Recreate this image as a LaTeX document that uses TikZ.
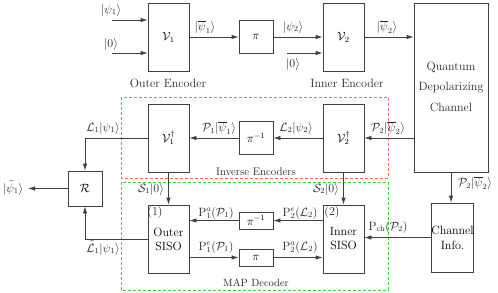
\documentclass[tikz,border=0pt]{standalone}
\usetikzlibrary{arrows.meta}
\definecolor{ln}{gray}{0.25}
\definecolor{redd}{RGB}{240,110,110}
\definecolor{grn}{RGB}{60,210,60}
\begin{document}
\begin{tikzpicture}[x=1pt,y=-1pt,
  blk/.style={draw=ln, line width=0.8pt, inner sep=0pt, font=\fontsize{12}{14}\selectfont, align=center},
  lbl/.style={inner sep=0pt, font=\fontsize{12}{14}\selectfont, text=black!85},
  arr/.style={draw=ln, line width=0.8pt, -{Latex[length=7pt,width=4.5pt]}},
  ln/.style={draw=ln, line width=0.8pt},
  grp/.style={dashed, dash pattern=on 3pt off 2pt, line width=0.7pt}]
\useasboundingbox (0,0) rectangle (498,292);
% groups
\draw[grp, draw=redd] (121,97) rectangle (388,178);
\draw[grp, draw=grn] (121,182) rectangle (388,290);
% encoder blocks
\node[blk, minimum width=41pt, minimum height=68pt] (V1) at (168.5,37) {$\mathcal{V}_1$};
\node[blk, minimum width=34pt, minimum height=33pt] (pi1) at (256,37) {$\pi$};
\node[blk, minimum width=41pt, minimum height=68pt] (V2) at (343.5,37) {$\mathcal{V}_2$};
\node[blk, minimum width=74pt, minimum height=169pt] (ch) at (451,87.5) {};
\node[lbl] (chq) at (451,67) {Quantum};
\node[lbl] (chd) at (451,88) {Depolarizing};
\node[lbl] (chc) at (451,107) {Channel};
% inverse encoders
\node[blk, minimum width=41pt, minimum height=68pt] (V1d) at (168.5,138) {$\mathcal{V}_1^\dagger$};
\node[blk, minimum width=34pt, minimum height=33pt] (pid) at (256,138) {$\pi^{-1}$};
\node[blk, minimum width=41pt, minimum height=68pt] (V2d) at (343.5,138) {$\mathcal{V}_2^\dagger$};
\node[blk, minimum width=34pt, minimum height=35pt] (R) at (85,188.5) {$\mathcal{R}$};
% decoder
\node[blk, minimum width=41pt, minimum height=68pt] (os) at (168.5,239) {Outer\\SISO};
\node[blk, minimum width=41pt, minimum height=68pt] (is) at (343.5,239) {Inner\\SISO};
\node[blk, minimum width=34pt, minimum height=17pt] (pil) at (256,220.5) {$\pi^{-1}$};
\node[blk, minimum width=34pt, minimum height=17pt] (pil2) at (256,257.5) {$\pi$};
\node[blk, minimum width=39pt, minimum height=69pt] (ci) at (452.5,237.5) {Channel\\[1pt]Info.};
\node[lbl] (n1) at (155,213) {(1)};
\node[lbl] (n2) at (332,213) {(2)};
% free ends
\coordinate (in1) at (112,20);
\coordinate (in0) at (112,53);
\coordinate (in02) at (287,53);
\coordinate (out) at (28,188.5);
% connectors
\draw[arr] (in1) -- (in1 -| V1.west);
\draw[arr] (in0) -- (in0 -| V1.west);
\draw[arr] (V1.east) -- (pi1.west);
\draw[arr] (pi1.east) -- (pi1.east -| V2.west);
\draw[arr] (in02) -- (in02 -| V2.west);
\draw[arr] (V2.east) -- (V2.east -| ch.west);
\draw[arr] (ch.west |- V2d.east) -- (V2d.east);
\draw[arr] (V2d.west) -- (V2d.west -| pid.east);
\draw[arr] (pid.west) -- (pid.west -| V1d.east);
\draw[arr] (V1d.west) -| (R.north);
\draw[arr] (V1d.south) -- (os.north);
\draw[arr] (V2d.south) -- (is.north);
\draw[arr] (os.west) -| (R.south);
\draw[arr] (R.west) -- (out);
\draw[arr] (is.west |- pil.east) -- (pil.east);
\draw[arr] (pil.west) -- (pil.west -| os.east);
\draw[arr] (os.east |- pil2.west) -- (pil2.west);
\draw[arr] (pil2.east) -- (pil2.east -| is.west);
\draw[arr] (ch.south) -- (ch.south |- ci.north);
\draw[arr] (ci.west) -- (ci.west -| is.east);
% labels
\node[lbl] (t1) at (111,10) {$|\psi_1\rangle$};
\node[lbl] (t2) at (111,44) {$|0\rangle$};
\node[lbl] (t3) at (205,27) {$|\overline{\psi}_1\rangle$};
\node[lbl] (t4) at (293,27) {$|\psi_2\rangle$};
\node[lbl] (t5) at (293,64) {$|0\rangle$};
\node[lbl] (t6) at (387,27) {$|\overline{\psi}_2\rangle$};
\node[lbl] (t7) at (168,83) {Outer Encoder};
\node[lbl] (t8) at (347,83) {Inner Encoder};
\node[lbl] (t9) at (388,128) {$\mathcal{P}_2|\overline{\psi}_2\rangle$};
\node[lbl] (t10) at (296,128) {$\mathcal{L}_2|\psi_2\rangle$};
\node[lbl] (t11) at (219,128) {$\mathcal{P}_1|\overline{\psi}_1\rangle$};
\node[lbl] (t12) at (103,128) {$\mathcal{L}_1|\psi_1\rangle$};
\node[lbl, font=\fontsize{11}{13}\selectfont] (t13) at (256,172) {Inverse Encoders};
\node[lbl] (t14) at (151,189) {$\mathcal{S}_1|0\rangle$};
\node[lbl] (t15) at (326,189) {$\mathcal{S}_2|0\rangle$};
\node[lbl] (t16) at (475,183) {$\mathcal{P}_2|\overline{\psi}_2\rangle$};
\node[lbl] (t17) at (13,188) {$|\tilde{\psi}_1\rangle$};
\node[lbl] (t18) at (103,248) {$\tilde{\mathcal{L}}_1|\psi_1\rangle$};
\node[lbl] (t19) at (216,213) {$\mathrm{P}_1^a(\mathcal{P}_1)$};
\node[lbl] (t20) at (216,247) {$\mathrm{P}_1^e(\mathcal{P}_1)$};
\node[lbl] (t21) at (300,213) {$\mathrm{P}_2^e(\mathcal{L}_2)$};
\node[lbl] (t22) at (300,247) {$\mathrm{P}_2^a(\mathcal{L}_2)$};
\node[lbl] (t23) at (388,227) {$\mathrm{P}_{\mathrm{ch}}(\mathcal{P}_2)$};
\node[lbl, font=\fontsize{10.5}{12}\selectfont] (t24) at (256,283) {MAP Decoder};
\end{tikzpicture}
\end{document}
